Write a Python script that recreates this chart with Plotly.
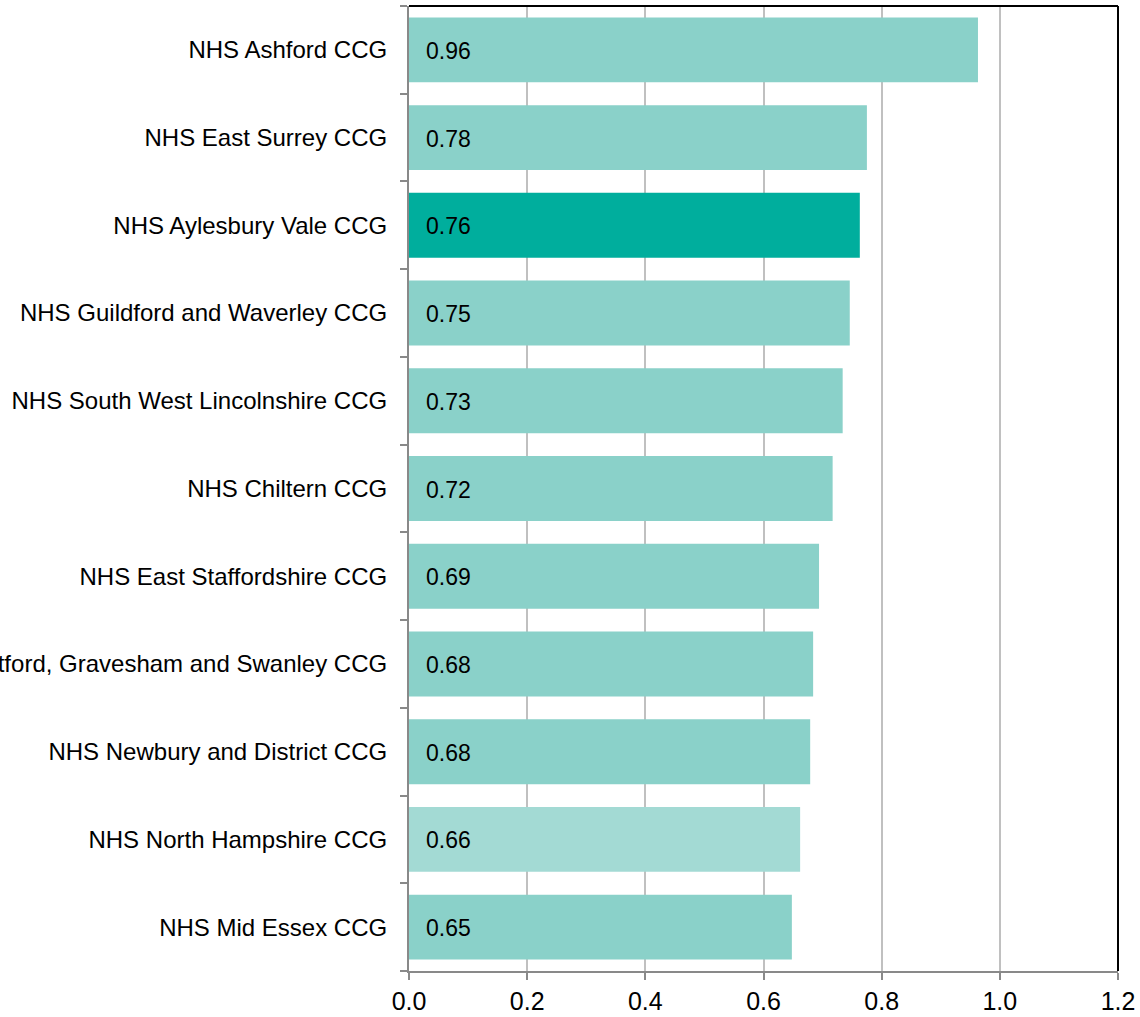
import plotly.graph_objects as go

categories = [
    "NHS Ashford CCG",
    "NHS East Surrey CCG",
    "NHS Aylesbury Vale CCG",
    "NHS Guildford and Waverley CCG",
    "NHS South West Lincolnshire CCG",
    "NHS Chiltern CCG",
    "NHS East Staffordshire CCG",
    "NHS Dartford, Gravesham and Swanley CCG",
    "NHS Newbury and District CCG",
    "NHS North Hampshire CCG",
    "NHS Mid Essex CCG",
]
values = [0.963, 0.775, 0.763, 0.746, 0.734, 0.717, 0.694, 0.684, 0.679, 0.662, 0.648]
labels = ["0.96", "0.78", "0.76", "0.75", "0.73", "0.72", "0.69", "0.68", "0.68", "0.66", "0.65"]
bar_colors = ["#8AD1C9", "#8AD1C9", "#00AE9D", "#8AD1C9", "#8AD1C9", "#8AD1C9",
              "#8AD1C9", "#8AD1C9", "#8AD1C9", "#A3DAD4", "#8AD1C9"]
x_ticks = [0, 0.2, 0.4, 0.6, 0.8, 1.0, 1.2]
x_tick_text = ["0.0", "0.2", "0.4", "0.6", "0.8", "1.0", "1.2"]

FONT = "Liberation Sans, Arial, sans-serif"

fig = go.Figure(go.Bar(
    x=values, y=categories, orientation="h",
    marker=dict(color=bar_colors, line=dict(width=0)),
    width=0.74, hoverinfo="skip",
))

for c, lab in zip(categories, labels):
    fig.add_annotation(x=0, y=c, xref="x", yref="y", text=lab, showarrow=False,
                       xanchor="left", xshift=15, yshift=-1,
                       font=dict(family=FONT, size=23, color="#000000"))

fig.update_layout(
    width=1140, height=1017,
    margin=dict(l=409, r=22, t=6, b=46, autoexpand=False),
    paper_bgcolor="white", plot_bgcolor="white",
    showlegend=False,
    font=dict(family=FONT, color="#000000"),
    bargap=0.26,
    xaxis=dict(
        range=[0, 1.2], tickvals=x_ticks, ticktext=x_tick_text,
        showgrid=True, gridcolor="#C0C0C0", gridwidth=2,
        showline=True, linecolor="#898989", linewidth=2,
        ticks="outside", ticklen=7, tickcolor="#898989", tickwidth=2,
        tickfont=dict(family=FONT, size=25, color="#000000"),
        zeroline=False, fixedrange=True, automargin=False,
    ),
    yaxis=dict(
        categoryorder="array", categoryarray=categories[::-1],
        autorange=False, range=[-0.5, len(categories) - 0.5],
        showgrid=False, showline=True, linecolor="#898989", linewidth=2,
        ticks="outside", ticklen=7, tickcolor="#898989", tickwidth=2,
        tickson="boundaries",
        tickfont=dict(family=FONT, size=24, color="#000000"),
        ticklabelstandoff=15,
        zeroline=False, fixedrange=True, automargin=False,
    ),
)

fig.add_shape(type="line", xref="paper", yref="paper", x0=0, x1=1, y0=1, y1=1,
              line=dict(color="#000000", width=2))
fig.add_shape(type="line", xref="paper", yref="paper", x0=1, x1=1, y0=0, y1=1,
              line=dict(color="#000000", width=2))

fig.write_html("out.html", config={"displayModeBar": False},
               post_script="document.body.style.margin='0';")
